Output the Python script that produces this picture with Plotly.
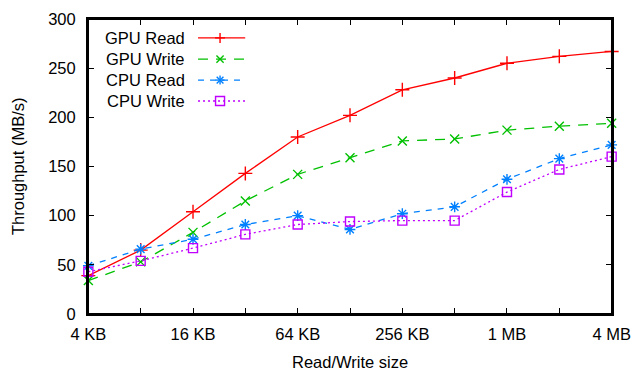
import math
import plotly.graph_objects as go

sizes_kb = [4, 8, 16, 32, 64, 128, 256, 512, 1024, 2048, 4096]
tick_text = ["4 KB", "", "16 KB", "", "64 KB", "", "256 KB", "", "1 MB", "", "4 MB"]
y_ticks = [0, 50, 100, 150, 200, 250, 300]

gpu_read = [39, 65, 104, 143, 180, 202, 228, 240, 255, 262, 267]
gpu_write = [34, 53, 83, 115, 142, 159, 176, 178, 187, 191, 194]
cpu_read = [49, 66, 76, 91, 100, 86, 102, 109, 137, 158, 172]
cpu_write = [43, 54, 67, 81, 91, 94, 95, 95, 124, 147, 160]

series = [
    ("GPU Read", gpu_read, "#ff0000", "solid", "cross-thin-open", 10),
    ("GPU Write", gpu_write, "#00c000", "10px,8px", "x-thin-open", 9),
    ("CPU Read", cpu_read, "#0080ff", "6px,6px", "asterisk-open", 9),
    ("CPU Write", cpu_write, "#c000ff", "2px,3px", "square-open", 9),
]

FS = 16.5
PW, PH = 524.0, 295.0  # plot-area size in px, used to place the legend in paper units

fig = go.Figure()
for name, vals, color, dash, sym, ms in series:
    fig.add_trace(go.Scatter(
        x=sizes_kb, y=vals, mode="lines+markers", name=name,
        line=dict(color=color, width=1.3, dash=dash),
        marker=dict(symbol=sym, size=ms, color=color, line=dict(color=color, width=1.4)),
        showlegend=False, cliponaxis=False,
    ))

# custom legend (text on the left, line sample on the right), drawn with shapes
legend_y = [0.936, 0.864, 0.793, 0.722]
lx0, lxm, lx1 = 0.21, 0.252, 0.30
for (name, vals, color, dash, sym, ms), ly in zip(series, legend_y):
    fig.add_annotation(x=0.188, y=ly, xref="paper", yref="paper", text=name, showarrow=False,
                       xanchor="right", yanchor="middle",
                       font=dict(size=FS, color="#000000"))
    fig.add_shape(type="line", xref="paper", yref="paper", x0=lx0, x1=lx1, y0=ly, y1=ly,
                  line=dict(color=color, width=1.3, dash=dash))
    dx, dy = (ms / 2) / PW, (ms / 2) / PH
    segs = []
    if sym.startswith("cross") or sym.startswith("asterisk"):
        segs += [(lxm - dx, ly, lxm + dx, ly), (lxm, ly - dy, lxm, ly + dy)]
    if sym.startswith("x") or sym.startswith("asterisk"):
        k = 0.75 if sym.startswith("asterisk") else 0.8
        segs += [(lxm - k * dx, ly - k * dy, lxm + k * dx, ly + k * dy),
                 (lxm - k * dx, ly + k * dy, lxm + k * dx, ly - k * dy)]
    for a, b, c, d in segs:
        fig.add_shape(type="line", xref="paper", yref="paper", x0=a, y0=b, x1=c, y1=d,
                      line=dict(color=color, width=1.4))
    if sym.startswith("square"):
        fig.add_shape(type="rect", xref="paper", yref="paper", x0=lxm - dx, x1=lxm + dx,
                      y0=ly - dy, y1=ly + dy, line=dict(color=color, width=1.4),
                      fillcolor="rgba(0,0,0,0)")

# plot frame
fig.add_shape(type="rect", xref="paper", yref="paper", x0=0, x1=1, y0=0, y1=1,
              line=dict(color="#000", width=2), fillcolor="rgba(0,0,0,0)", layer="above")

# axis titles
fig.add_annotation(x=-0.1345, y=0.5, xref="paper", yref="paper", text="Throughput (MB/s)",
                   textangle=-90, showarrow=False, xanchor="center", yanchor="middle",
                   font=dict(size=FS, color="#000"))
fig.add_annotation(x=0.5, y=-0.163, xref="paper", yref="paper", text="Read/Write size",
                   showarrow=False, xanchor="center", yanchor="middle",
                   font=dict(size=FS, color="#000"))

axis_common = dict(showgrid=False, ticks="inside", ticklen=6, automargin=False,
                   tickwidth=1.3, tickcolor="black", showline=True, linecolor="black",
                   linewidth=2, mirror="ticks",
                   tickfont=dict(size=FS, color="#000"))

xr = [math.log10(sizes_kb[0]) - 0.002, math.log10(sizes_kb[-1]) + 0.002]

fig.update_layout(
    width=632, height=372,
    margin=dict(l=88, r=20, t=19, b=58),
    paper_bgcolor="white", plot_bgcolor="white",
    font=dict(family="Liberation Sans, Arial, sans-serif", color="#000"),
    xaxis=dict(type="log", range=xr, tickvals=sizes_kb, ticktext=tick_text,
               ticklabelstandoff=4, **axis_common),
    yaxis=dict(range=[0, 300], tickvals=y_ticks, ticklabelstandoff=7, zeroline=False,
               **axis_common),
)

fig.write_html("out.html", config={"displayModeBar": False},
               post_script="document.body.style.margin='0px';")
